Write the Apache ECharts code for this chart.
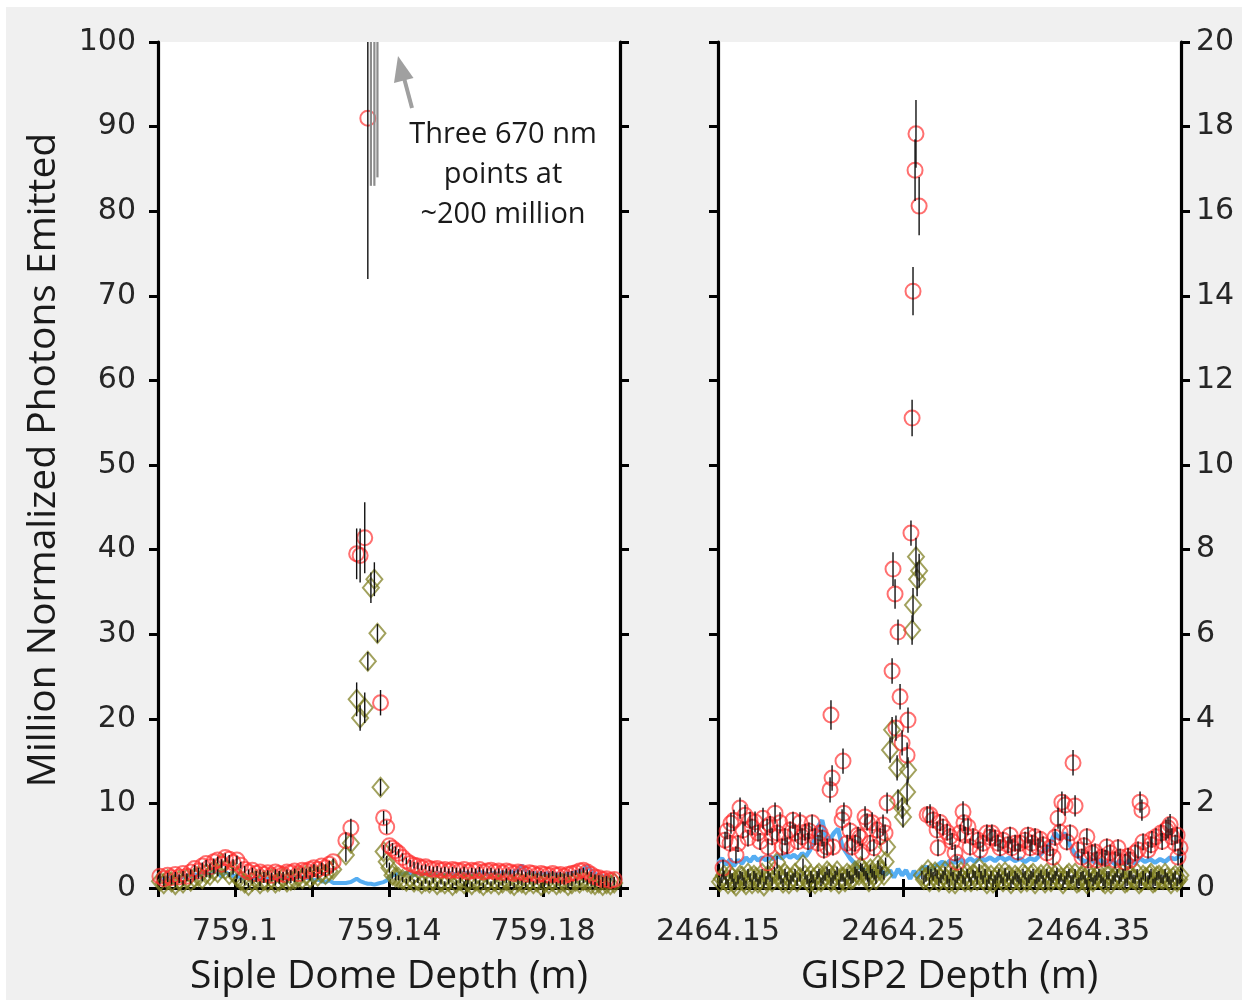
<!DOCTYPE html>
<html>
<head>
<meta charset="utf-8">
<script src="https://cdn.jsdelivr.net/npm/echarts/dist/echarts.min.js"></script>
<style>
  html, body { margin: 0; padding: 0; background: #ffffff; }
  #chart { width: 1248px; height: 1006px; }
</style>
</head>
<body>
<div id="chart"></div>
<script>
// ---------- Siple Dome section (left panel) ----------
const leftXMin = 759.08, leftXMax = 759.2, leftXStep = 0.02;
const leftXLabels = ['759.1', '759.14', '759.18'];
const leftYMax = 100, leftYStep = 10;

const leftDepth = [
  759.0805,759.0815,759.0825,759.0835,759.0845,759.0855,759.0865,759.0875,759.0885,759.0895,
  759.0905,759.0915,759.0925,759.0935,759.0945,759.0955,759.0965,759.0975,759.0985,759.0995,
  759.1005,759.1015,759.1025,759.1035,759.1045,759.1055,759.1065,759.1075,759.1085,759.1095,
  759.1105,759.1115,759.1125,759.1135,759.1145,759.1155,759.1165,759.1175,759.1185,759.1195,
  759.1205,759.1215,759.1225,759.1235,759.1245,759.1255,
  759.1288,759.1301,759.1316,759.1325,759.1337,759.1345,759.1353,759.1362,759.1370,759.1378,
  759.1386,759.1394,759.1401,759.1409,759.1417,
  759.1425,759.1435,759.1445,759.1455,759.1465,759.1475,759.1485,759.1495,759.1505,759.1515,
  759.1525,759.1535,759.1545,759.1555,759.1565,759.1575,759.1585,759.1595,759.1605,759.1615,
  759.1625,759.1635,759.1645,759.1655,759.1665,759.1675,759.1685,759.1695,759.1705,759.1715,
  759.1725,759.1735,759.1745,759.1755,759.1765,759.1775,759.1785,759.1795,759.1805,759.1815,
  759.1825,759.1835,759.1845,759.1855,759.1865,759.1875,759.1885,759.1895,759.1905,759.1915,
  759.1925,759.1935,759.1945,759.1955,759.1965,759.1975,759.1985
];
// 670 nm channel (red circles)
const leftRed = [
  1.4,1.1,1.5,1.2,1.6,1.3,1.7,1.4,1.9,2.3, 2.0,2.6,2.9,2.5,3.1,3.3,2.8,3.6,3.4,3.0,
  3.3,2.7,2.2,1.9,2.1,1.7,1.9,1.6,1.8,1.5, 1.9,1.7,1.6,1.9,1.8,2.0,1.7,2.1,2.0,2.2,
  2.4,2.2,2.6,2.4,2.8,3.1,
  5.6,7.1,39.5,39.3,41.4,91.0,200,200,200,21.9,8.3,7.2,5.0,4.7,4.4,
  4.1,3.6,3.2,2.9,2.7,2.6,2.4,2.5,2.3,2.2, 2.3,2.1,2.2,2.0,2.2,2.1,2.0,2.2,1.9,2.1,
  2.0,2.2,1.9,2.0,2.1,1.9,2.0,1.8,2.0,1.9, 1.7,1.9,1.8,1.6,1.8,1.7,1.5,1.7,1.6,1.5,
  1.7,1.5,1.6,1.4,1.6,1.7,1.8,2.0,2.1,1.9, 1.6,1.3,1.2,1.0,1.1,0.9,1.0
];
const leftRedErr = [
  0.3,0.3,0.3,0.3,0.3,0.3,0.3,0.3,0.3,0.4, 0.4,0.4,0.4,0.4,0.4,0.4,0.4,0.5,0.5,0.4,
  0.5,0.4,0.4,0.3,0.3,0.3,0.3,0.3,0.3,0.3, 0.3,0.3,0.3,0.3,0.3,0.3,0.3,0.3,0.3,0.3,
  0.4,0.3,0.4,0.4,0.4,0.4,
  1.0,1.1,3.0,3.2,4.2,19.0,117,117,116,1.5,0.8,0.8,0.6,0.6,0.5,
  0.5,0.5,0.4,0.4,0.4,0.4,0.3,0.3,0.3,0.3, 0.3,0.3,0.3,0.3,0.3,0.3,0.3,0.3,0.3,0.3,
  0.3,0.3,0.3,0.3,0.3,0.3,0.3,0.3,0.3,0.3, 0.3,0.3,0.3,0.3,0.3,0.3,0.3,0.3,0.3,0.3,
  0.3,0.3,0.3,0.3,0.3,0.3,0.3,0.3,0.3,0.3, 0.3,0.3,0.3,0.3,0.3,0.3,0.3
];
// second channel (olive diamonds)
const leftDiamond = [
  0.8,0.5,1.0,0.7,0.4,0.9,0.6,1.1,0.8,1.2, 1.4,1.1,1.7,1.5,2.1,1.8,2.9,2.2,1.6,2.0,
  1.3,0.9,0.6,0.3,0.8,1.0,0.5,0.9,0.7,1.1, 0.6,0.8,1.2,0.7,0.9,1.0,1.3,1.1,1.5,1.2,
  1.6,1.4,1.8,1.6,2.0,2.2,
  3.9,5.3,22.3,20.1,21.3,26.8,35.5,36.5,30.1,11.9,4.3,3.1,2.4,1.5,1.3,
  1.2,1.0,0.8,1.1,0.7,0.9,0.5,0.8,0.6,0.9, 0.4,0.7,0.5,0.8,0.3,0.6,0.9,0.5,0.7,0.4,
  0.8,0.6,0.3,0.7,0.5,0.8,0.4,0.6,0.9,0.5, 0.3,0.7,0.6,0.4,0.8,0.5,0.7,0.3,0.6,0.5,
  0.8,0.4,0.6,0.7,0.3,0.5,0.8,0.6,0.9,0.7, 0.5,0.4,0.6,0.3,0.5,0.4,0.6
];
const leftDiamondErr = [
  0.3,0.3,0.3,0.3,0.3,0.3,0.3,0.3,0.3,0.3, 0.3,0.3,0.4,0.3,0.4,0.4,0.5,0.4,0.3,0.4,
  0.3,0.3,0.3,0.3,0.3,0.3,0.3,0.3,0.3,0.3, 0.3,0.3,0.3,0.3,0.3,0.3,0.3,0.3,0.3,0.3,
  0.3,0.3,0.3,0.3,0.4,0.4,
  0.8,0.9,2.0,1.5,1.8,1.1,1.8,2.0,1.1,1.0,0.8,0.7,0.6,0.4,0.4,
  0.3,0.3,0.3,0.3,0.3,0.3,0.3,0.3,0.3,0.3, 0.3,0.3,0.3,0.3,0.3,0.3,0.3,0.3,0.3,0.3,
  0.3,0.3,0.3,0.3,0.3,0.3,0.3,0.3,0.3,0.3, 0.3,0.3,0.3,0.3,0.3,0.3,0.3,0.3,0.3,0.3,
  0.3,0.3,0.3,0.3,0.3,0.3,0.3,0.3,0.3,0.3, 0.3,0.3,0.3,0.3,0.3,0.3,0.3
];
// third channel (blue trace)
const leftBlue = [
  1.2,1.0,1.3,1.1,1.4,1.2,1.3,1.5,1.4,1.6, 1.5,1.7,1.9,1.6,2.0,1.8,1.3,1.9,1.6,1.4,
  1.5,1.2,1.1,1.3,1.0,1.2,1.1,1.3,1.0,1.2, 1.1,1.3,1.2,1.1,1.3,1.2,1.4,1.3,1.2,1.1,
  0.9,1.0,0.8,0.7,0.9,0.6,
  0.6,0.7,1.1,0.8,0.6,0.5,0.5,0.4,0.5,0.6,0.7,0.9,1.3,1.5,1.6,
  1.7,1.6,1.8,1.7,1.5,1.8,1.6,1.7,1.9,1.6, 1.8,1.7,1.5,1.8,1.7,1.6,1.9,1.7,1.8,1.6,
  1.7,1.9,1.8,1.6,1.7,1.8,1.6,1.9,1.7,1.8, 2.0,2.1,2.7,2.0,1.8,1.7,1.8,1.6,1.7,1.8,
  1.6,1.7,1.5,1.6,1.8,1.7,1.9,2.0,2.2,2.6, 2.1,1.7,1.5,1.4,1.3,1.2,1.1
];

// ---------- GISP2 section (right panel) ----------
const rightXMin = 2464.15, rightXMax = 2464.4, rightXStep = 0.05;
const rightXLabels = ['2464.15', '2464.25', '2464.35'];
const rightYMax = 20, rightYStep = 2;

// [depth, value, error]
const rightRed = [
  [2464.1527,0.47,0.2],[2464.1538,1.13,0.2],[2464.1549,1.35,0.2],[2464.1565,1.06,0.2],[2464.1570,1.53,0.25],
  [2464.1586,1.60,0.25],[2464.1597,0.78,0.2],[2464.1608,1.05,0.2],[2464.1619,1.89,0.25],[2464.1635,1.37,0.2],
  [2464.1646,1.72,0.25],[2464.1662,1.18,0.2],[2464.1673,1.60,0.2],[2464.1684,1.44,0.2],[2464.1700,1.56,0.25],
  [2464.1716,1.30,0.2],[2464.1727,1.10,0.2],[2464.1743,1.65,0.25],[2464.1765,1.44,0.2],[2464.1768,0.59,0.15],
  [2464.1770,0.97,0.2],[2464.1781,1.50,0.2],[2464.1792,1.21,0.2],[2464.1808,1.77,0.25],[2464.1819,1.30,0.2],
  [2464.1835,1.54,0.25],[2464.1846,0.97,0.2],[2464.1862,1.21,0.2],[2464.1873,1.00,0.2],[2464.1889,1.37,0.2],
  [2464.1905,1.60,0.2],[2464.1916,1.30,0.2],[2464.1932,1.10,0.2],[2464.1943,1.54,0.25],[2464.1954,1.21,0.2],
  [2464.1970,1.32,0.2],[2464.1986,1.10,0.2],[2464.1991,1.35,0.2],[2464.2008,1.54,0.2],[2464.2024,1.21,0.2],
  [2464.2040,1.06,0.2],[2464.2051,1.30,0.2],[2464.2062,1.18,0.2],[2464.2072,0.90,0.2],[2464.2089,0.97,0.2],
  [2464.2105,2.32,0.3],[2464.2110,4.09,0.35],[2464.2116,2.60,0.3],[2464.2121,0.97,0.2],[2464.2170,1.61,0.25],
  [2464.2175,3.00,0.3],[2464.2180,1.77,0.25],[2464.2197,1.06,0.2],[2464.2213,1.35,0.2],[2464.2224,0.97,0.2],
  [2464.2240,1.06,0.2],[2464.2256,1.25,0.2],[2464.2267,1.20,0.2],[2464.2278,0.85,0.2],[2464.2294,1.68,0.25],
  [2464.2305,1.56,0.2],[2464.2321,1.06,0.2],[2464.2332,1.54,0.25],[2464.2342,0.95,0.2],[2464.2359,1.37,0.2],
  [2464.2375,1.21,0.2],[2464.2391,1.49,0.25],[2464.2402,1.30,0.2],[2464.2413,2.01,0.25],
  [2464.2440,5.13,0.3],[2464.2445,7.54,0.4],[2464.2456,6.95,0.35],[2464.2461,3.78,0.3],[2464.2472,6.05,0.3],
  [2464.2483,4.52,0.3],[2464.2494,3.43,0.3],[2464.2521,3.14,0.3],[2464.2526,3.97,0.3],[2464.2542,8.39,0.3],
  [2464.2548,11.11,0.43],[2464.2553,14.11,0.57],[2464.2564,16.97,0.73],[2464.2569,17.83,0.8],[2464.2586,16.12,0.69],
  [2464.2629,1.73,0.2],[2464.2645,1.73,0.25],[2464.2661,1.61,0.2],[2464.2683,1.37,0.2],[2464.2688,0.95,0.2],
  [2464.2699,1.55,0.2],[2464.2715,1.44,0.2],[2464.2737,1.32,0.2],[2464.2753,1.21,0.2],[2464.2764,1.10,0.2],
  [2464.2780,0.83,0.2],[2464.2791,0.61,0.15],[2464.2807,1.30,0.2],[2464.2823,1.80,0.25],[2464.2828,1.54,0.2],
  [2464.2834,1.25,0.2],[2464.2850,1.45,0.2],[2464.2861,0.97,0.2],[2464.2877,1.21,0.2],[2464.2904,1.13,0.2],
  [2464.2915,0.90,0.2],[2464.2931,1.06,0.2],[2464.2952,1.30,0.2],[2464.2969,1.20,0.2],[2464.2979,1.30,0.2],
  [2464.2996,1.18,0.2],[2464.3012,1.06,0.2],[2464.3023,0.95,0.2],[2464.3039,1.13,0.2],[2464.3066,1.02,0.2],
  [2464.3077,1.25,0.2],[2464.3087,0.95,0.2],[2464.3104,1.06,0.2],[2464.3120,0.85,0.2],[2464.3131,1.06,0.2],
  [2464.3158,1.13,0.2],[2464.3174,1.25,0.2],[2464.3185,0.95,0.2],[2464.3195,1.06,0.2],[2464.3212,1.21,0.2],
  [2464.3228,0.97,0.2],[2464.3239,1.15,0.2],[2464.3255,1.02,0.2],[2464.3276,0.83,0.2],[2464.3293,0.95,0.2],
  [2464.3309,0.73,0.2],[2464.3320,1.20,0.2],[2464.3336,1.65,0.25],[2464.3347,1.32,0.2],[2464.3357,2.03,0.25],
  [2464.3374,1.96,0.25],[2464.3384,1.09,0.2],[2464.3401,1.30,0.2],[2464.3417,2.96,0.3],[2464.3428,1.94,0.25],
  [2464.3444,0.90,0.2],[2464.3465,0.73,0.2],[2464.3476,1.00,0.2],[2464.3492,1.21,0.2],[2464.3498,0.66,0.2],
  [2464.3519,0.83,0.2],[2464.3536,0.85,0.2],[2464.3546,0.66,0.2],[2464.3573,0.73,0.2],[2464.3590,0.70,0.2],
  [2464.3600,0.97,0.2],[2464.3617,0.83,0.2],[2464.3644,0.66,0.2],[2464.3660,0.95,0.2],[2464.3671,0.73,0.2],
  [2464.3698,0.61,0.2],[2464.3714,0.75,0.2],[2464.3725,0.66,0.2],[2464.3752,0.83,0.2],[2464.3768,0.90,0.2],
  [2464.3779,2.03,0.25],[2464.3789,1.84,0.25],[2464.3795,1.09,0.2],[2464.3822,0.90,0.2],[2464.3838,1.02,0.2],
  [2464.3843,1.15,0.2],[2464.3865,1.21,0.2],[2464.3892,1.30,0.2],[2464.3898,1.10,0.2],[2464.3919,1.37,0.25],
  [2464.3930,1.42,0.25],[2464.3941,1.50,0.25],[2464.3951,1.21,0.2],[2464.3968,1.06,0.2],[2464.3979,1.25,0.2],
  [2464.3984,0.73,0.2],[2464.3995,0.95,0.2]
];
const rightDiamond = [
  [2464.1511,0.15,0.1],[2464.1521,0.22,0.1],[2464.1532,0.30,0.1],[2464.1543,0.18,0.1],[2464.1554,0.10,0.1],
  [2464.1565,0.32,0.1],[2464.1576,0.25,0.1],[2464.1586,0.12,0.1],[2464.1597,0.05,0.1],[2464.1608,0.20,0.1],
  [2464.1619,0.30,0.1],[2464.1630,0.28,0.1],[2464.1640,0.15,0.1],[2464.1651,0.08,0.1],[2464.1662,0.35,0.1],
  [2464.1673,0.25,0.1],[2464.1684,0.10,0.1],[2464.1694,0.30,0.1],[2464.1705,0.25,0.1],[2464.1716,0.12,0.1],
  [2464.1727,0.20,0.1],[2464.1738,0.35,0.1],[2464.1748,0.05,0.1],[2464.1759,0.18,0.1],[2464.1770,0.30,0.1],
  [2464.1781,0.25,0.1],[2464.1792,0.15,0.1],[2464.1805,0.40,0.1],[2464.1819,0.61,0.15],[2464.1830,0.30,0.1],
  [2464.1840,0.20,0.1],[2464.1851,0.12,0.1],[2464.1862,0.35,0.1],[2464.1873,0.28,0.1],[2464.1883,0.10,0.1],
  [2464.1894,0.20,0.1],[2464.1905,0.25,0.1],[2464.1916,0.35,0.1],[2464.1927,0.15,0.1],[2464.1943,0.25,0.1],
  [2464.1959,0.55,0.15],[2464.1970,0.30,0.1],[2464.1981,0.20,0.1],[2464.1992,0.12,0.1],[2464.2002,0.30,0.1],
  [2464.2013,0.22,0.1],[2464.2024,0.10,0.1],[2464.2035,0.30,0.1],[2464.2045,0.35,0.1],[2464.2056,0.15,0.1],
  [2464.2067,0.20,0.1],[2464.2078,0.28,0.1],[2464.2089,0.40,0.1],[2464.2100,0.35,0.1],[2464.2110,0.15,0.1],
  [2464.2121,0.20,0.1],[2464.2132,0.30,0.1],[2464.2143,0.40,0.1],[2464.2153,0.10,0.1],[2464.2164,0.25,0.1],
  [2464.2175,0.25,0.1],[2464.2186,0.15,0.1],[2464.2197,0.35,0.1],[2464.2208,0.30,0.1],[2464.2218,0.20,0.1],
  [2464.2229,0.22,0.1],[2464.2240,0.40,0.1],[2464.2250,0.35,0.1],[2464.2261,0.30,0.1],[2464.2270,0.50,0.1],
  [2464.2278,0.47,0.1],[2464.2288,0.38,0.1],[2464.2299,0.30,0.1],[2464.2307,0.25,0.1],[2464.2315,0.15,0.1],
  [2464.2323,0.45,0.1],[2464.2332,0.35,0.1],[2464.2343,0.30,0.1],[2464.2353,0.20,0.1],[2464.2364,0.55,0.1],
  [2464.2375,0.43,0.1],[2464.2385,0.40,0.1],[2464.2396,0.30,0.1],[2464.2405,0.62,0.1],[2464.2413,0.97,0.15],
  [2464.2429,3.26,0.3],[2464.2440,3.74,0.3],[2464.2467,2.84,0.3],[2464.2472,2.08,0.25],[2464.2494,1.89,0.25],
  [2464.2499,1.68,0.25],[2464.2521,2.27,0.3],[2464.2526,2.79,0.3],[2464.2548,6.10,0.35],[2464.2553,6.69,0.4],
  [2464.2569,7.83,0.45],[2464.2575,7.30,0.4],[2464.2586,7.50,0.4],
  [2464.2601,0.30,0.1],[2464.2612,0.20,0.1],[2464.2623,0.25,0.1],[2464.2634,0.43,0.1],[2464.2642,0.15,0.1],
  [2464.2650,0.35,0.1],[2464.2661,0.28,0.1],[2464.2672,0.38,0.1],[2464.2683,0.32,0.1],[2464.2693,0.15,0.1],
  [2464.2704,0.22,0.1],[2464.2715,0.30,0.1],[2464.2726,0.40,0.1],[2464.2737,0.20,0.1],[2464.2748,0.12,0.1],
  [2464.2758,0.38,0.1],[2464.2769,0.28,0.1],[2464.2780,0.10,0.1],[2464.2791,0.22,0.1],[2464.2801,0.30,0.1],
  [2464.2812,0.38,0.1],[2464.2823,0.20,0.1],[2464.2834,0.15,0.1],[2464.2845,0.35,0.1],[2464.2856,0.25,0.1],
  [2464.2866,0.15,0.1],[2464.2877,0.33,0.1],[2464.2888,0.30,0.1],[2464.2899,0.18,0.1],[2464.2910,0.47,0.1],
  [2464.2920,0.30,0.1],[2464.2931,0.20,0.1],[2464.2942,0.35,0.1],[2464.2952,0.10,0.1],[2464.2963,0.20,0.1],
  [2464.2974,0.30,0.1],[2464.2985,0.12,0.1],[2464.2996,0.20,0.1],[2464.3007,0.28,0.1],[2464.3017,0.35,0.1],
  [2464.3028,0.22,0.1],[2464.3039,0.15,0.1],[2464.3050,0.38,0.1],[2464.3061,0.25,0.1],[2464.3072,0.30,0.1],
  [2464.3082,0.10,0.1],[2464.3093,0.18,0.1],[2464.3104,0.30,0.1],[2464.3115,0.25,0.1],[2464.3125,0.20,0.1],
  [2464.3136,0.12,0.1],[2464.3147,0.35,0.1],[2464.3158,0.30,0.1],[2464.3168,0.15,0.1],[2464.3179,0.22,0.1],
  [2464.3190,0.30,0.1],[2464.3201,0.35,0.1],[2464.3212,0.10,0.1],[2464.3222,0.20,0.1],[2464.3233,0.25,0.1],
  [2464.3244,0.32,0.1],[2464.3255,0.20,0.1],[2464.3266,0.12,0.1],[2464.3276,0.35,0.1],[2464.3287,0.28,0.1],
  [2464.3298,0.15,0.1],[2464.3309,0.22,0.1],[2464.3320,0.30,0.1],[2464.3330,0.38,0.1],[2464.3341,0.20,0.1],
  [2464.3352,0.25,0.1],[2464.3363,0.10,0.1],[2464.3373,0.18,0.1],[2464.3384,0.30,0.1],[2464.3395,0.35,0.1],
  [2464.3406,0.20,0.1],[2464.3417,0.22,0.1],[2464.3428,0.35,0.1],[2464.3438,0.12,0.1],[2464.3449,0.15,0.1],
  [2464.3460,0.28,0.1],[2464.3471,0.30,0.1],[2464.3482,0.20,0.1],[2464.3492,0.10,0.1],[2464.3503,0.35,0.1],
  [2464.3514,0.25,0.1],[2464.3525,0.15,0.1],[2464.3536,0.20,0.1],[2464.3546,0.28,0.1],[2464.3557,0.35,0.1],
  [2464.3568,0.22,0.1],[2464.3579,0.15,0.1],[2464.3590,0.10,0.1],[2464.3600,0.30,0.1],[2464.3611,0.30,0.1],
  [2464.3622,0.10,0.1],[2464.3633,0.20,0.1],[2464.3644,0.25,0.1],[2464.3655,0.35,0.1],[2464.3666,0.20,0.1],
  [2464.3676,0.25,0.1],[2464.3687,0.35,0.1],[2464.3698,0.12,0.1],[2464.3709,0.15,0.1],[2464.3720,0.30,0.1],
  [2464.3730,0.30,0.1],[2464.3741,0.22,0.1],[2464.3752,0.20,0.1],[2464.3763,0.35,0.1],[2464.3774,0.10,0.1],
  [2464.3785,0.15,0.1],[2464.3795,0.30,0.1],[2464.3808,0.25,0.1],[2464.3822,0.20,0.1],[2464.3830,0.30,0.1],
  [2464.3838,0.35,0.1],[2464.3849,0.12,0.1],[2464.3860,0.15,0.1],[2464.3870,0.28,0.1],[2464.3881,0.30,0.1],
  [2464.3892,0.22,0.1],[2464.3903,0.20,0.1],[2464.3914,0.35,0.1],[2464.3925,0.25,0.1],[2464.3935,0.18,0.1],
  [2464.3946,0.10,0.1],[2464.3957,0.25,0.1],[2464.3968,0.30,0.1],[2464.3979,0.15,0.1],[2464.3990,0.20,0.1],
  [2464.3997,0.30,0.1]
];
// [depth, value]
const rightBlue = [
  [2464.1500,0.60],[2464.1522,0.70],[2464.1543,0.55],[2464.1565,0.68],[2464.1586,0.52],[2464.1608,0.66],
  [2464.1630,0.58],[2464.1651,0.72],[2464.1673,0.62],[2464.1694,0.75],[2464.1716,0.65],[2464.1738,0.72],
  [2464.1759,0.66],[2464.1781,0.74],[2464.1802,0.68],[2464.1824,0.76],[2464.1846,0.70],[2464.1867,0.80],
  [2464.1889,0.72],[2464.1910,0.78],[2464.1932,0.70],[2464.1954,0.82],[2464.1975,0.75],[2464.1997,0.90],
  [2464.2018,1.10],[2464.2040,1.45],[2464.2062,1.60],[2464.2083,1.20],[2464.2105,1.15],[2464.2126,1.30],
  [2464.2148,1.40],[2464.2170,1.00],[2464.2191,0.85],[2464.2213,0.70],[2464.2234,0.60],[2464.2256,0.50],
  [2464.2278,0.45],[2464.2299,0.40],[2464.2321,0.35],[2464.2342,0.40],[2464.2364,0.30],[2464.2386,0.38],
  [2464.2407,0.32],[2464.2429,0.42],[2464.2450,0.25],[2464.2472,0.45],[2464.2494,0.30],[2464.2515,0.42],
  [2464.2537,0.22],[2464.2558,0.40],[2464.2580,0.25],[2464.2602,0.45],[2464.2623,0.50],[2464.2645,0.42],
  [2464.2666,0.50],[2464.2688,0.55],[2464.2710,0.62],[2464.2731,0.55],[2464.2753,0.65],[2464.2780,0.60],
  [2464.2807,0.68],[2464.2834,0.60],[2464.2861,0.70],[2464.2888,0.62],[2464.2915,0.72],[2464.2942,0.65],
  [2464.2969,0.72],[2464.2996,0.64],[2464.3023,0.74],[2464.3050,0.66],[2464.3077,0.72],[2464.3104,0.64],
  [2464.3131,0.70],[2464.3158,0.62],[2464.3185,0.70],[2464.3212,0.66],[2464.3239,0.78],[2464.3266,0.90],
  [2464.3293,1.05],[2464.3320,1.30],[2464.3347,1.15],[2464.3374,1.30],[2464.3401,1.00],[2464.3428,0.80],
  [2464.3455,0.70],[2464.3482,0.62],[2464.3509,0.68],[2464.3536,0.60],[2464.3563,0.66],[2464.3590,0.58],
  [2464.3617,0.65],[2464.3644,0.56],[2464.3671,0.64],[2464.3698,0.56],[2464.3725,0.66],[2464.3752,0.58],
  [2464.3779,0.70],[2464.3806,0.62],[2464.3833,0.68],[2464.3860,0.60],[2464.3887,0.68],[2464.3914,0.62],
  [2464.3941,0.72],[2464.3968,0.68],[2464.4000,0.78]
];

// ---------- styling ----------
const RED = 'rgba(255,45,45,0.85)';
const OLIVE = 'rgba(125,125,30,0.9)';
const BLUE = '#55adf2';
const AXIS = '#000000';
const TICK_TEXT = '#262626';
const TICK_FONT = 'DejaVu Sans';
const TITLE_FONT = 'Open Sans';

const leftTriples = (vals, errs) => leftDepth.map((d, i) => [d, vals[i], errs[i]]);
const leftRedData = leftTriples(leftRed, leftRedErr);
const leftDiamondData = leftTriples(leftDiamond, leftDiamondErr);
const leftBlueData = leftDepth.map((d, i) => [d, leftBlue[i]]);

function xAxisPair(gridIndex, min, max, step, labels, name) {
  const line = { show: true, lineStyle: { color: AXIS, width: 3.2 } };
  const tick = { show: true, inside: false, length: 9, lineStyle: { color: AXIS, width: 3 } };
  return [
    {
      type: 'value', gridIndex, position: 'bottom', min, max, interval: step,
      axisLine: line, axisTick: tick, splitLine: { show: false },
      axisLabel: {
        margin: 29, fontFamily: TICK_FONT, fontSize: 30, color: TICK_TEXT,
        showMinLabel: true, showMaxLabel: true,
        formatter: v => { const s = String(+v.toFixed(2)); return labels.includes(s) ? s : ''; }
      },
      name, nameLocation: 'middle', nameGap: 69,
      nameTextStyle: { fontFamily: TITLE_FONT, fontSize: 39, color: '#1a1a1a' }
    },
    {
      type: 'value', gridIndex, position: 'top', min, max, interval: step,
      axisLine: line, axisTick: tick, splitLine: { show: false }, axisLabel: { show: false }
    }
  ];
}
function yAxisPair(gridIndex, max, step, labelSide, name) {
  const line = { show: true, lineStyle: { color: AXIS, width: 3.2 } };
  const tick = { show: true, inside: false, length: 9, lineStyle: { color: AXIS, width: 3 } };
  const mk = (pos) => {
    const a = {
      type: 'value', gridIndex, position: pos, min: 0, max, interval: step,
      axisLine: line, axisTick: tick, splitLine: { show: false },
      axisLabel: pos === labelSide
        ? { show: true, margin: pos === 'left' ? 22 : 15, fontFamily: TICK_FONT, fontSize: 30, color: TICK_TEXT }
        : { show: false }
    };
    if (name && pos === labelSide) {
      Object.assign(a, {
        name, nameLocation: 'middle', nameGap: 95,
        nameTextStyle: { fontFamily: TITLE_FONT, fontSize: 39, color: '#1a1a1a', padding: [0, 0, 0, 10] }
      });
    }
    return a;
  };
  return [mk('left'), mk('right')];
}

function errorBars(data, xAxisIndex, yAxisIndex, yMax) {
  return {
    type: 'custom', xAxisIndex, yAxisIndex, z: 6, silent: true,
    data, encode: { x: 0, y: 1 },
    renderItem(params, api) {
      const d = api.value(0), v = api.value(1), e = api.value(2);
      const lo = Math.max(v - e, 0), hi = Math.min(v + e, yMax);
      if (lo >= yMax) return null;
      const p1 = api.coord([d, lo]), p2 = api.coord([d, hi]);
      const off = v > yMax;
      return {
        type: 'line',
        shape: { x1: p1[0], y1: p1[1], x2: p2[0], y2: p2[1] },
        style: { stroke: off ? '#8c8c8c' : '#111111', lineWidth: off ? 2.2 : 1.4 }
      };
    }
  };
}
const circleStyle = { color: 'rgba(0,0,0,0)', borderColor: RED, borderWidth: 2 };
const diamondStyle = { color: 'rgba(0,0,0,0)', borderColor: OLIVE, borderWidth: 2 };

const chart = echarts.init(document.getElementById('chart'), null, { renderer: 'canvas' });
chart.setOption({
  animation: false,
  backgroundColor: '#ffffff',
  grid: [
    { left: 158, top: 42, width: 462, height: 846, show: true, backgroundColor: '#ffffff', borderWidth: 0, containLabel: false, outerBoundsMode: 'none' },
    { left: 718, top: 42, width: 463, height: 846, show: true, backgroundColor: '#ffffff', borderWidth: 0, containLabel: false, outerBoundsMode: 'none' }
  ],
  xAxis: [
    ...xAxisPair(0, leftXMin, leftXMax, leftXStep, leftXLabels, 'Siple Dome Depth (m)'),
    ...xAxisPair(1, rightXMin, rightXMax, rightXStep, rightXLabels, 'GISP2 Depth (m)')
  ],
  yAxis: [
    ...yAxisPair(0, leftYMax, leftYStep, 'left', 'Million Normalized Photons Emitted'),
    ...yAxisPair(1, rightYMax, rightYStep, 'right', null)
  ],
  graphic: [
    { type: 'rect', z: -100, silent: true, shape: { x: 6, y: 7, width: 1236, height: 993 }, style: { fill: '#f0f0f0' } },
    { type: 'line', z: 50, silent: true, shape: { x1: 412, y1: 108, x2: 404, y2: 78 }, style: { stroke: '#a0a0a0', lineWidth: 4 } },
    { type: 'polygon', z: 50, silent: true, shape: { points: [[398, 56], [413.5, 78], [394, 83]] }, style: { fill: '#a0a0a0' } },
    {
      type: 'text', z: 50, silent: true, x: 503, y: 175,
      style: {
        text: 'Three 670 nm\npoints at\n~200 million', align: 'center', verticalAlign: 'middle',
        fontFamily: TITLE_FONT, fontSize: 29, lineHeight: 40, fill: '#1a1a1a'
      }
    }
  ],
  series: [
    { type: 'line', xAxisIndex: 0, yAxisIndex: 0, data: leftBlueData, showSymbol: false, symbol: 'none',
      lineStyle: { color: BLUE, width: 4 }, z: 2, silent: true },
    { type: 'scatter', xAxisIndex: 0, yAxisIndex: 0, data: leftDiamondData, symbol: 'diamond', symbolSize: [16, 19],
      itemStyle: diamondStyle, z: 3, silent: true },
    { type: 'scatter', xAxisIndex: 0, yAxisIndex: 0, data: leftRedData, symbol: 'circle', symbolSize: 15,
      itemStyle: circleStyle, z: 4, silent: true },
    errorBars(leftDiamondData, 0, 0, leftYMax),
    errorBars(leftRedData, 0, 0, leftYMax),

    { type: 'line', xAxisIndex: 2, yAxisIndex: 3, data: rightBlue, showSymbol: false, symbol: 'none',
      lineStyle: { color: BLUE, width: 4.5 }, z: 2, silent: true },
    { type: 'scatter', xAxisIndex: 2, yAxisIndex: 3, data: rightDiamond, symbol: 'diamond', symbolSize: [16, 19],
      itemStyle: diamondStyle, z: 3, silent: true },
    { type: 'scatter', xAxisIndex: 2, yAxisIndex: 3, data: rightRed, symbol: 'circle', symbolSize: 15,
      itemStyle: circleStyle, z: 4, silent: true },
    errorBars(rightDiamond, 2, 3, rightYMax),
    errorBars(rightRed, 2, 3, rightYMax)
  ]
});
</script>
</body>
</html>
